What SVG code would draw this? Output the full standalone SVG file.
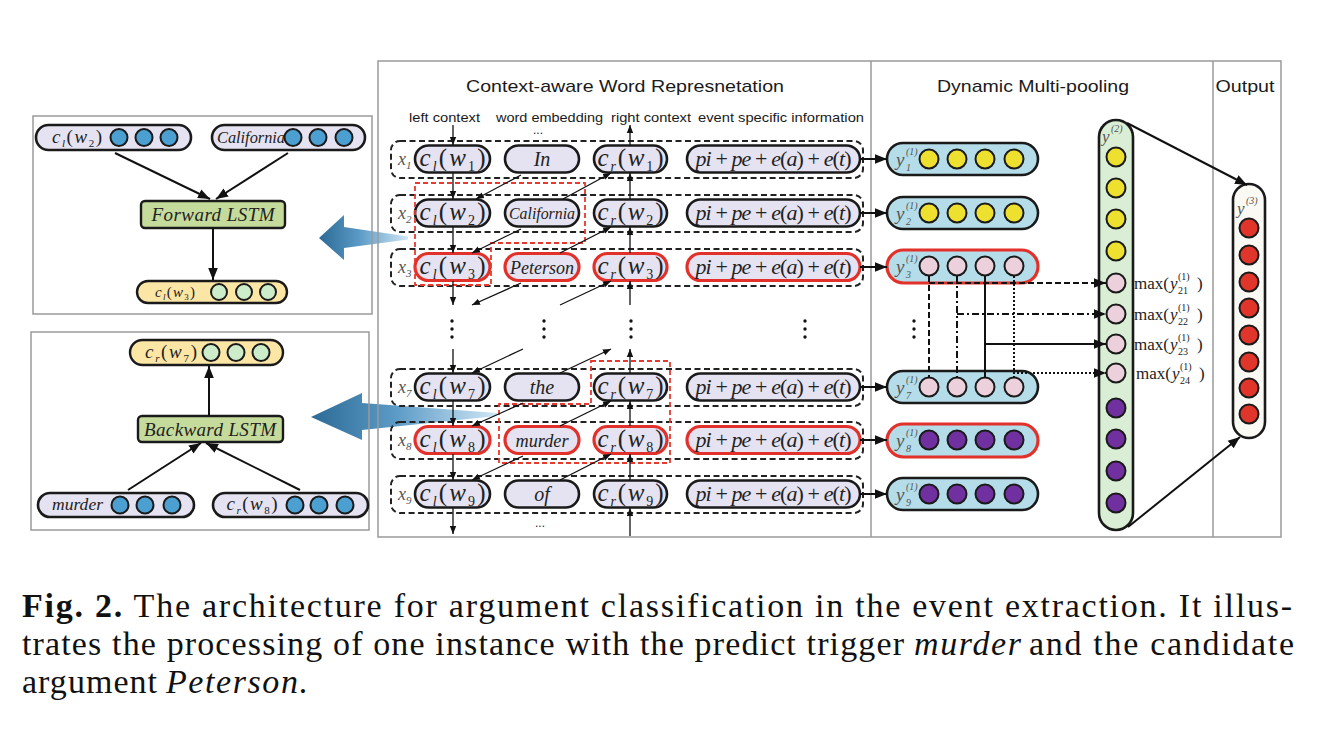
<svg xmlns="http://www.w3.org/2000/svg" width="1322" height="743" viewBox="0 0 1322 743">
<defs>
<style>
.frame{fill:none;stroke:#9a9a9a;stroke-width:1.5}
.pill{fill:#e5e2f1;stroke:#1a1a1a;stroke-width:2.6}
.redp{fill:#e5e2f1;stroke:#e2312a;stroke-width:3.2}
.dash{fill:none;stroke:#222;stroke-width:2;stroke-dasharray:6 3.5}
.rdash{fill:none;stroke:#e8392e;stroke-width:1.8;stroke-dasharray:5 3}
.ybox{fill:#b4dde9;stroke:#1a1a1a;stroke-width:2.6}
.yred{fill:#b4dde9;stroke:#e2312a;stroke-width:3.2}
.cy{fill:#ede02e;stroke:#1a1a1a;stroke-width:2}
.cp{fill:#ecd1dc;stroke:#1a1a1a;stroke-width:2}
.cv{fill:#7030a0;stroke:#1a1a1a;stroke-width:2}
.cr{fill:#e0352a;stroke:#1a1a1a;stroke-width:2}
.cb{fill:#4b9fd1;stroke:#1a1a1a;stroke-width:2}
.cg{fill:#cdedca;stroke:#1a1a1a;stroke-width:2}
.lstm{fill:#c5db9c;stroke:#1a1a1a;stroke-width:2.4}
.ypill{fill:#fbe6a6;stroke:#1a1a1a;stroke-width:2.4}
.ln{stroke:#111;stroke-width:1.3;fill:none}
.lnb{stroke:#111;stroke-width:2;fill:none}
.sans{font-family:"Liberation Sans",Arial,sans-serif;fill:#1a1a1a}
.serif{font-family:"Liberation Serif","Times New Roman",serif;fill:#222}
.it{font-style:italic}
.m{font-family:"Liberation Serif","Times New Roman",serif;fill:#222;font-size:25px;text-anchor:middle}
.s{font-size:14px}
.xl{font-family:"Liberation Serif","Times New Roman",serif;fill:#555;font-size:18px;font-style:italic}
.yl{font-family:"Liberation Serif","Times New Roman",serif;fill:#555;font-style:italic}
.cap{font-family:"Liberation Serif","Times New Roman",serif;fill:#111;font-size:34px}
</style>
<marker id="ah" viewBox="0 0 10 10" refX="10" refY="5" markerWidth="8" markerHeight="8" markerUnits="userSpaceOnUse" orient="auto"><path d="M0,1 L10,5 L0,9 z" fill="#111"/></marker>
<marker id="ahb" viewBox="0 0 10 10" refX="10" refY="5" markerWidth="12" markerHeight="12" markerUnits="userSpaceOnUse" orient="auto"><path d="M0,1 L10,5 L0,9 z" fill="#111"/></marker>
<linearGradient id="bg" x1="0" y1="0" x2="1" y2="0">
<stop offset="0" stop-color="#2d6a96"/>
<stop offset="0.45" stop-color="#5b9ac6"/>
<stop offset="1" stop-color="#cfe6f5"/>
</linearGradient>
</defs>
<rect width="1322" height="743" fill="#fff"/>

<!-- big blue arrows -->
<g id="blue-arrows">
<polygon points="319,238 344,215 344,227 408,236.5 408,239.5 344,248 344,260" fill="url(#bg)"/>
<polygon points="311,417 362,393 362,403 497,413 497,416 362,430 362,440" fill="url(#bg)"/>
</g>

<!-- frames -->
<g id="frames">
<rect class="frame" x="33" y="116" width="339" height="198"/>
<rect class="frame" x="31" y="332" width="338" height="198"/>
<rect class="frame" x="378" y="61" width="903" height="476"/>
<line class="frame" x1="871" y1="61" x2="871" y2="537"/>
<line class="frame" x1="1213" y1="61" x2="1213" y2="537"/>
</g>

<!-- titles -->
<g id="titles">
<text class="sans" x="625" y="92" font-size="17" text-anchor="middle" textLength="318" lengthAdjust="spacingAndGlyphs">Context-aware Word Represnetation</text>
<text class="sans" x="409" y="122" font-size="13.5" textLength="71" lengthAdjust="spacingAndGlyphs">left context</text>
<text class="sans" x="496" y="122" font-size="13.5" textLength="107" lengthAdjust="spacingAndGlyphs">word embedding</text>
<text class="sans" x="611" y="122" font-size="13.5" textLength="80" lengthAdjust="spacingAndGlyphs">right context</text>
<text class="sans" x="698" y="122" font-size="13.5" textLength="166" lengthAdjust="spacingAndGlyphs">event specific information</text>
<text class="sans" x="1033" y="92" font-size="17" text-anchor="middle" textLength="192" lengthAdjust="spacingAndGlyphs">Dynamic Multi-pooling</text>
<text class="sans" x="1245" y="92" font-size="17" text-anchor="middle" textLength="59" lengthAdjust="spacingAndGlyphs">Output</text>
<text class="sans" x="538" y="134" font-size="12" text-anchor="middle">...</text>
<text class="sans" x="540" y="527" font-size="12" text-anchor="middle">...</text>
</g>

<!-- row dashed boxes -->
<g id="row-boxes">
<rect class="dash" x="391" y="141" width="472" height="37" rx="9"/>
<rect class="dash" x="391" y="195" width="472" height="37" rx="9"/>
<rect class="dash" x="391" y="249" width="472" height="37" rx="9"/>
<rect class="dash" x="391" y="369" width="472" height="37" rx="9"/>
<rect class="dash" x="391" y="422" width="472" height="37" rx="9"/>
<rect class="dash" x="391" y="476" width="472" height="37" rx="9"/>
</g>

<!-- x labels -->
<g id="x-labels">
<text class="xl" x="398" y="165">x<tspan font-size="11" dy="4">1</tspan></text>
<text class="xl" x="398" y="219">x<tspan font-size="11" dy="4">2</tspan></text>
<text class="xl" x="398" y="273">x<tspan font-size="11" dy="4">3</tspan></text>
<text class="xl" x="398" y="393">x<tspan font-size="11" dy="4">7</tspan></text>
<text class="xl" x="398" y="446">x<tspan font-size="11" dy="4">8</tspan></text>
<text class="xl" x="398" y="500">x<tspan font-size="11" dy="4">9</tspan></text>
</g>

<!-- Row 1 -->
<g id="cl1"><rect class="pill" x="415" y="145.5" width="75" height="27" rx="13.5"/>
<text class="m" x="452.5" y="165.5" textLength="66" lengthAdjust="spacing"><tspan class="it">c</tspan><tspan class="s it" dy="5">l</tspan><tspan dy="-5">(</tspan><tspan class="it">w</tspan><tspan class="s" dy="5">1</tspan><tspan dy="-5">)</tspan></text></g>
<g id="w1"><rect class="pill" x="505" y="145.5" width="74" height="27" rx="13.5"/>
<text class="serif it" x="542" y="166" font-size="20" text-anchor="middle">In</text></g>
<g id="cr1"><rect class="pill" x="594" y="145.5" width="73" height="27" rx="13.5"/>
<text class="m" x="630.5" y="165.5" textLength="66" lengthAdjust="spacing"><tspan class="it">c</tspan><tspan class="s it" dy="5">r</tspan><tspan dy="-5">(</tspan><tspan class="it">w</tspan><tspan class="s" dy="5">1</tspan><tspan dy="-5">)</tspan></text></g>
<g id="pi1"><rect class="pill" x="687" y="145.5" width="173" height="27" rx="13.5"/>
<text class="serif" x="773.5" y="166" font-size="22" text-anchor="middle" textLength="156" lengthAdjust="spacing"><tspan class="it">pi</tspan> + <tspan class="it">pe</tspan> + <tspan class="it">e</tspan>(<tspan class="it">a</tspan>) + <tspan class="it">e</tspan>(<tspan class="it">t</tspan>)</text></g>

<!-- Row 2 -->
<g id="cl2"><rect class="pill" x="415" y="199.5" width="75" height="27" rx="13.5"/>
<text class="m" x="452.5" y="219.5" textLength="66" lengthAdjust="spacing"><tspan class="it">c</tspan><tspan class="s it" dy="5">l</tspan><tspan dy="-5">(</tspan><tspan class="it">w</tspan><tspan class="s" dy="5">2</tspan><tspan dy="-5">)</tspan></text></g>
<g id="w2"><rect class="pill" x="505" y="199.5" width="74" height="27" rx="13.5"/>
<text class="serif it" x="542" y="219" font-size="16" text-anchor="middle" textLength="66" lengthAdjust="spacingAndGlyphs">California</text></g>
<g id="cr2"><rect class="pill" x="594" y="199.5" width="73" height="27" rx="13.5"/>
<text class="m" x="630.5" y="219.5" textLength="66" lengthAdjust="spacing"><tspan class="it">c</tspan><tspan class="s it" dy="5">r</tspan><tspan dy="-5">(</tspan><tspan class="it">w</tspan><tspan class="s" dy="5">2</tspan><tspan dy="-5">)</tspan></text></g>
<g id="pi2"><rect class="pill" x="687" y="199.5" width="173" height="27" rx="13.5"/>
<text class="serif" x="773.5" y="220" font-size="22" text-anchor="middle" textLength="156" lengthAdjust="spacing"><tspan class="it">pi</tspan> + <tspan class="it">pe</tspan> + <tspan class="it">e</tspan>(<tspan class="it">a</tspan>) + <tspan class="it">e</tspan>(<tspan class="it">t</tspan>)</text></g>

<!-- Row 3 -->
<g id="cl3"><rect class="redp" x="415" y="253.5" width="75" height="27" rx="13.5"/>
<text class="m" x="452.5" y="273.5" textLength="66" lengthAdjust="spacing"><tspan class="it">c</tspan><tspan class="s it" dy="5">l</tspan><tspan dy="-5">(</tspan><tspan class="it">w</tspan><tspan class="s" dy="5">3</tspan><tspan dy="-5">)</tspan></text></g>
<g id="w3"><rect class="redp" x="505" y="253.5" width="74" height="27" rx="13.5"/>
<text class="serif it" x="542" y="273.5" font-size="19" text-anchor="middle" textLength="64" lengthAdjust="spacingAndGlyphs">Peterson</text></g>
<g id="cr3"><rect class="redp" x="594" y="253.5" width="73" height="27" rx="13.5"/>
<text class="m" x="630.5" y="273.5" textLength="66" lengthAdjust="spacing"><tspan class="it">c</tspan><tspan class="s it" dy="5">r</tspan><tspan dy="-5">(</tspan><tspan class="it">w</tspan><tspan class="s" dy="5">3</tspan><tspan dy="-5">)</tspan></text></g>
<g id="pi3"><rect class="redp" x="687" y="253.5" width="173" height="27" rx="13.5"/>
<text class="serif" x="773.5" y="274" font-size="22" text-anchor="middle" textLength="156" lengthAdjust="spacing"><tspan class="it">pi</tspan> + <tspan class="it">pe</tspan> + <tspan class="it">e</tspan>(<tspan class="it">a</tspan>) + <tspan class="it">e</tspan>(<tspan class="it">t</tspan>)</text></g>

<!-- Row 7 -->
<g id="cl7"><rect class="pill" x="415" y="373.5" width="75" height="27" rx="13.5"/>
<text class="m" x="452.5" y="393.5" textLength="66" lengthAdjust="spacing"><tspan class="it">c</tspan><tspan class="s it" dy="5">l</tspan><tspan dy="-5">(</tspan><tspan class="it">w</tspan><tspan class="s" dy="5">7</tspan><tspan dy="-5">)</tspan></text></g>
<g id="w7"><rect class="pill" x="505" y="373.5" width="74" height="27" rx="13.5"/>
<text class="serif it" x="542" y="394" font-size="20" text-anchor="middle">the</text></g>
<g id="cr7"><rect class="pill" x="594" y="373.5" width="73" height="27" rx="13.5"/>
<text class="m" x="630.5" y="393.5" textLength="66" lengthAdjust="spacing"><tspan class="it">c</tspan><tspan class="s it" dy="5">r</tspan><tspan dy="-5">(</tspan><tspan class="it">w</tspan><tspan class="s" dy="5">7</tspan><tspan dy="-5">)</tspan></text></g>
<g id="pi7"><rect class="pill" x="687" y="373.5" width="173" height="27" rx="13.5"/>
<text class="serif" x="773.5" y="394" font-size="22" text-anchor="middle" textLength="156" lengthAdjust="spacing"><tspan class="it">pi</tspan> + <tspan class="it">pe</tspan> + <tspan class="it">e</tspan>(<tspan class="it">a</tspan>) + <tspan class="it">e</tspan>(<tspan class="it">t</tspan>)</text></g>

<!-- Row 8 -->
<g id="cl8"><rect class="redp" x="415" y="426.5" width="75" height="27" rx="13.5"/>
<text class="m" x="452.5" y="446.5" textLength="66" lengthAdjust="spacing"><tspan class="it">c</tspan><tspan class="s it" dy="5">l</tspan><tspan dy="-5">(</tspan><tspan class="it">w</tspan><tspan class="s" dy="5">8</tspan><tspan dy="-5">)</tspan></text></g>
<g id="w8"><rect class="redp" x="505" y="426.5" width="74" height="27" rx="13.5"/>
<text class="serif it" x="542" y="446.5" font-size="18" text-anchor="middle" textLength="53" lengthAdjust="spacingAndGlyphs">murder</text></g>
<g id="cr8"><rect class="redp" x="594" y="426.5" width="73" height="27" rx="13.5"/>
<text class="m" x="630.5" y="446.5" textLength="66" lengthAdjust="spacing"><tspan class="it">c</tspan><tspan class="s it" dy="5">r</tspan><tspan dy="-5">(</tspan><tspan class="it">w</tspan><tspan class="s" dy="5">8</tspan><tspan dy="-5">)</tspan></text></g>
<g id="pi8"><rect class="redp" x="687" y="426.5" width="173" height="27" rx="13.5"/>
<text class="serif" x="773.5" y="447" font-size="22" text-anchor="middle" textLength="156" lengthAdjust="spacing"><tspan class="it">pi</tspan> + <tspan class="it">pe</tspan> + <tspan class="it">e</tspan>(<tspan class="it">a</tspan>) + <tspan class="it">e</tspan>(<tspan class="it">t</tspan>)</text></g>

<!-- Row 9 -->
<g id="cl9"><rect class="pill" x="415" y="480.5" width="75" height="27" rx="13.5"/>
<text class="m" x="452.5" y="500.5" textLength="66" lengthAdjust="spacing"><tspan class="it">c</tspan><tspan class="s it" dy="5">l</tspan><tspan dy="-5">(</tspan><tspan class="it">w</tspan><tspan class="s" dy="5">9</tspan><tspan dy="-5">)</tspan></text></g>
<g id="w9"><rect class="pill" x="505" y="480.5" width="74" height="27" rx="13.5"/>
<text class="serif it" x="542" y="501" font-size="20" text-anchor="middle">of</text></g>
<g id="cr9"><rect class="pill" x="594" y="480.5" width="73" height="27" rx="13.5"/>
<text class="m" x="630.5" y="500.5" textLength="66" lengthAdjust="spacing"><tspan class="it">c</tspan><tspan class="s it" dy="5">r</tspan><tspan dy="-5">(</tspan><tspan class="it">w</tspan><tspan class="s" dy="5">9</tspan><tspan dy="-5">)</tspan></text></g>
<g id="pi9"><rect class="pill" x="687" y="480.5" width="173" height="27" rx="13.5"/>
<text class="serif" x="773.5" y="501" font-size="22" text-anchor="middle" textLength="156" lengthAdjust="spacing"><tspan class="it">pi</tspan> + <tspan class="it">pe</tspan> + <tspan class="it">e</tspan>(<tspan class="it">a</tspan>) + <tspan class="it">e</tspan>(<tspan class="it">t</tspan>)</text></g>

<!-- red dashed highlight boxes -->
<g id="highlights">
<polygon class="rdash" points="415,183 585,183 585,243 491,243 491,285 415,285"/>
<polygon class="rdash" points="591,361 670,361 670,463 499,463 499,404 591,404"/>
</g>

<!-- vertical dots -->
<g id="ellipsis" fill="#111">
<circle cx="452" cy="321" r="1.7"/><circle cx="452" cy="329" r="1.7"/><circle cx="452" cy="337" r="1.7"/>
<circle cx="544" cy="321" r="1.7"/><circle cx="544" cy="329" r="1.7"/><circle cx="544" cy="337" r="1.7"/>
<circle cx="631" cy="321" r="1.7"/><circle cx="631" cy="329" r="1.7"/><circle cx="631" cy="337" r="1.7"/>
<circle cx="805" cy="321" r="1.7"/><circle cx="805" cy="329" r="1.7"/><circle cx="805" cy="337" r="1.7"/>
<circle cx="914" cy="321" r="1.7"/><circle cx="914" cy="329" r="1.7"/><circle cx="914" cy="337" r="1.7"/>
</g>

<!-- y(1) boxes -->
<g id="y1"><rect class="ybox" x="887" y="143" width="151" height="32" rx="16"/>
<circle class="cy" cx="929" cy="159" r="9.5"/><circle class="cy" cx="957" cy="159" r="9.5"/><circle class="cy" cx="985" cy="159" r="9.5"/><circle class="cy" cx="1014" cy="159" r="9.5"/>
<text class="yl" x="896" y="166" font-size="19">y</text><text class="yl" x="906" y="155" font-size="10" font-style="normal">(1)</text><text class="yl" x="906" y="171" font-size="10" font-style="normal">1</text></g>
<g id="y2"><rect class="ybox" x="887" y="197" width="151" height="32" rx="16"/>
<circle class="cy" cx="929" cy="213" r="9.5"/><circle class="cy" cx="957" cy="213" r="9.5"/><circle class="cy" cx="985" cy="213" r="9.5"/><circle class="cy" cx="1014" cy="213" r="9.5"/>
<text class="yl" x="896" y="220" font-size="19">y</text><text class="yl" x="906" y="209" font-size="10" font-style="normal">(1)</text><text class="yl" x="906" y="225" font-size="10" font-style="normal">2</text></g>
<g id="y3"><rect class="yred" x="887" y="250" width="151" height="33" rx="16.5"/>
<circle class="cp" cx="929" cy="266" r="9.5"/><circle class="cp" cx="957" cy="266" r="9.5"/><circle class="cp" cx="985" cy="266" r="9.5"/><circle class="cp" cx="1014" cy="266" r="9.5"/>
<text class="yl" x="896" y="273" font-size="19">y</text><text class="yl" x="906" y="262" font-size="10" font-style="normal">(1)</text><text class="yl" x="906" y="278" font-size="10" font-style="normal">3</text></g>
<g id="y7"><rect class="ybox" x="887" y="371" width="151" height="32" rx="16"/>
<circle class="cp" cx="929" cy="387" r="9.5"/><circle class="cp" cx="957" cy="387" r="9.5"/><circle class="cp" cx="985" cy="387" r="9.5"/><circle class="cp" cx="1014" cy="387" r="9.5"/>
<text class="yl" x="896" y="394" font-size="19">y</text><text class="yl" x="906" y="383" font-size="10" font-style="normal">(1)</text><text class="yl" x="906" y="399" font-size="10" font-style="normal">7</text></g>
<g id="y8"><rect class="yred" x="887" y="424" width="151" height="33" rx="16.5"/>
<circle class="cv" cx="929" cy="440" r="9.5"/><circle class="cv" cx="957" cy="440" r="9.5"/><circle class="cv" cx="985" cy="440" r="9.5"/><circle class="cv" cx="1014" cy="440" r="9.5"/>
<text class="yl" x="896" y="447" font-size="19">y</text><text class="yl" x="906" y="436" font-size="10" font-style="normal">(1)</text><text class="yl" x="906" y="452" font-size="10" font-style="normal">8</text></g>
<g id="y9"><rect class="ybox" x="887" y="478" width="151" height="32" rx="16"/>
<circle class="cv" cx="929" cy="494" r="9.5"/><circle class="cv" cx="957" cy="494" r="9.5"/><circle class="cv" cx="985" cy="494" r="9.5"/><circle class="cv" cx="1014" cy="494" r="9.5"/>
<text class="yl" x="896" y="501" font-size="19">y</text><text class="yl" x="906" y="490" font-size="10" font-style="normal">(1)</text><text class="yl" x="906" y="506" font-size="10" font-style="normal">9</text></g>

<!-- y(2) -->
<g id="y2col"><rect x="1099" y="120" width="34" height="410" rx="17" fill="#d9eed5" stroke="#1a1a1a" stroke-width="2.6"/>
<text class="yl" x="1102" y="142" font-size="17">y</text><text class="yl" x="1111" y="132" font-size="10" font-style="normal">(2)</text>
<circle class="cy" cx="1116" cy="157" r="9.5"/><circle class="cy" cx="1116" cy="188" r="9.5"/><circle class="cy" cx="1116" cy="219" r="9.5"/><circle class="cy" cx="1116" cy="251" r="9.5"/>
<circle class="cp" cx="1116" cy="283" r="9.5"/><circle class="cp" cx="1116" cy="314" r="9.5"/><circle class="cp" cx="1116" cy="344" r="9.5"/><circle class="cp" cx="1116" cy="373" r="9.5"/>
<circle class="cv" cx="1116" cy="408" r="9.5"/><circle class="cv" cx="1116" cy="439" r="9.5"/><circle class="cv" cx="1116" cy="471" r="9.5"/><circle class="cv" cx="1116" cy="503" r="9.5"/>
</g>

<!-- max labels -->
<g id="max-labels" class="serif" font-size="17">
<text x="1134" y="289">max(</text><text class="it" x="1170" y="289">y</text><text x="1178" y="280" font-size="10">(1)</text><text x="1178" y="294" font-size="10">21</text><text x="1197" y="289">)</text>
<text x="1134" y="320">max(</text><text class="it" x="1170" y="320">y</text><text x="1178" y="311" font-size="10">(1)</text><text x="1178" y="325" font-size="10">22</text><text x="1197" y="320">)</text>
<text x="1134" y="350">max(</text><text class="it" x="1170" y="350">y</text><text x="1178" y="341" font-size="10">(1)</text><text x="1178" y="355" font-size="10">23</text><text x="1197" y="350">)</text>
<text x="1136" y="379">max(</text><text class="it" x="1172" y="379">y</text><text x="1180" y="370" font-size="10">(1)</text><text x="1180" y="384" font-size="10">24</text><text x="1199" y="379">)</text>
</g>

<!-- y(3) output -->
<g id="y3col"><rect x="1233" y="184" width="32" height="254" rx="16" fill="#fbf9f3" stroke="#1a1a1a" stroke-width="2.6"/>
<text class="yl" x="1237" y="214" font-size="17">y</text><text class="yl" x="1246" y="204" font-size="10" font-style="normal">(3)</text>
<circle class="cr" cx="1249" cy="228" r="9.5"/><circle class="cr" cx="1249" cy="255" r="9.5"/><circle class="cr" cx="1249" cy="282" r="9.5"/><circle class="cr" cx="1249" cy="308" r="9.5"/>
<circle class="cr" cx="1249" cy="335" r="9.5"/><circle class="cr" cx="1249" cy="362" r="9.5"/><circle class="cr" cx="1249" cy="388" r="9.5"/><circle class="cr" cx="1249" cy="414" r="9.5"/>
</g>

<!-- left top panel nodes -->
<g id="lp-cl2"><rect class="pill" x="36" y="125" width="155" height="25" rx="12.5"/>
<text class="m" x="77" y="143" textLength="50" lengthAdjust="spacing" style="font-size:19px"><tspan class="it">c</tspan><tspan class="it" font-size="11" dy="4">l</tspan><tspan dy="-4">(</tspan><tspan class="it">w</tspan><tspan font-size="11" dy="4">2</tspan><tspan dy="-4">)</tspan></text>
<circle class="cb" cx="119" cy="137.5" r="8.5"/><circle class="cb" cx="144" cy="137.5" r="8.5"/><circle class="cb" cx="169" cy="137.5" r="8.5"/></g>
<g id="lp-cal"><rect class="pill" x="212" y="125" width="153" height="25" rx="12.5"/>
<text class="serif it" x="251" y="143" font-size="16" text-anchor="middle" textLength="68" lengthAdjust="spacingAndGlyphs">California</text>
<circle class="cb" cx="293" cy="137.5" r="8.5"/><circle class="cb" cx="318" cy="137.5" r="8.5"/><circle class="cb" cx="344" cy="137.5" r="8.5"/></g>
<g id="lp-fwd"><rect class="lstm" x="141" y="201" width="144" height="27" rx="4"/>
<text class="serif it" x="213" y="221" font-size="19" text-anchor="middle" textLength="123" lengthAdjust="spacing">Forward  LSTM</text></g>
<g id="lp-cl3"><rect class="ypill" x="137" y="281" width="150" height="22" rx="11"/>
<text class="m" x="175" y="297" textLength="40" lengthAdjust="spacing" style="font-size:15px"><tspan class="it">c</tspan><tspan class="it" font-size="9" dy="3">l</tspan><tspan dy="-3">(</tspan><tspan class="it">w</tspan><tspan font-size="9" dy="3">3</tspan><tspan dy="-3">)</tspan></text>
<circle class="cg" cx="219" cy="292" r="8"/><circle class="cg" cx="244" cy="292" r="8"/><circle class="cg" cx="268" cy="292" r="8"/></g>

<!-- left bottom panel nodes -->
<g id="lp-cr7"><rect class="ypill" x="130" y="340" width="153" height="25" rx="12.5"/>
<text class="m" x="171" y="358" textLength="52" lengthAdjust="spacing" style="font-size:19px"><tspan class="it">c</tspan><tspan class="it" font-size="11" dy="4">r</tspan><tspan dy="-4">(</tspan><tspan class="it">w</tspan><tspan font-size="11" dy="4">7</tspan><tspan dy="-4">)</tspan></text>
<circle class="cg" cx="211" cy="352.5" r="8.5"/><circle class="cg" cx="236" cy="352.5" r="8.5"/><circle class="cg" cx="261" cy="352.5" r="8.5"/></g>
<g id="lp-bwd"><rect class="lstm" x="138" y="416" width="145" height="26" rx="4"/>
<text class="serif it" x="210" y="436" font-size="19" text-anchor="middle" textLength="132" lengthAdjust="spacing">Backward  LSTM</text></g>
<g id="lp-murder"><rect class="pill" x="38" y="493" width="156" height="24" rx="12"/>
<text class="serif it" x="77.5" y="510" font-size="17" text-anchor="middle" textLength="51" lengthAdjust="spacingAndGlyphs">murder</text>
<circle class="cb" cx="120" cy="505" r="8.5"/><circle class="cb" cx="145" cy="505" r="8.5"/><circle class="cb" cx="172" cy="505" r="8.5"/></g>
<g id="lp-cr8"><rect class="pill" x="213" y="493" width="155" height="24" rx="12"/>
<text class="m" x="252" y="510" textLength="51" lengthAdjust="spacing" style="font-size:19px"><tspan class="it">c</tspan><tspan class="it" font-size="11" dy="4">r</tspan><tspan dy="-4">(</tspan><tspan class="it">w</tspan><tspan font-size="11" dy="4">8</tspan><tspan dy="-4">)</tspan></text>
<circle class="cb" cx="295" cy="505" r="8.5"/><circle class="cb" cx="319" cy="505" r="8.5"/><circle class="cb" cx="345" cy="505" r="8.5"/></g>

<!-- connectors -->
<g id="connectors">
<g class="ln" marker-end="url(#ah)">
<path d="M453,125 V145"/><path d="M453,173 V199"/><path d="M453,227 V253"/><path d="M453,281 V305"/>
<path d="M453,349 V373"/><path d="M453,401 V426"/><path d="M453,454 V480"/><path d="M453,508 V534"/>
<path d="M630,145 V125"/><path d="M630,199 V173"/><path d="M630,253 V227"/><path d="M630,305 V281"/>
<path d="M630,373 V349"/><path d="M630,426 V401"/><path d="M630,480 V454"/><path d="M630,536 V508"/>
<path d="M521,175 L476,199"/><path d="M521,229 L472,253"/><path d="M521,283 L472,305"/>
<path d="M523,349 L472,373"/><path d="M523,403 L472,426"/><path d="M523,456 L472,480"/>
<path d="M563,199 L611,173"/><path d="M560,253 L611,227"/><path d="M560,305 L611,281"/>
<path d="M560,373 L611,349"/><path d="M560,426 L611,401"/><path d="M560,480 L611,454"/>
</g>
<g class="lnb" marker-end="url(#ahb)">
<path d="M860,159 H887"/><path d="M860,213 H887"/><path d="M860,267 H887"/>
<path d="M860,387 H887"/><path d="M860,440 H887"/><path d="M860,494 H887"/>
<path d="M1127,123 L1247,185"/><path d="M1128,527 L1240,437"/>
<path d="M115,153 L210,199"/><path d="M288,153 L216,199"/><path d="M213,228 V280"/>
<path d="M128,490 L201,443"/><path d="M300,490 L206,443"/><path d="M209,416 V366"/>
</g>
<g fill="none" stroke="#111" stroke-width="2">
<path d="M929,276 V378" stroke-dasharray="6 3"/>
<path d="M957,276 V378" stroke-dasharray="7 3 2 3"/>
<path d="M985,276 V378"/>
<path d="M1014,276 V378" stroke-dasharray="2 2"/>
<path d="M929,283 H1106" stroke-dasharray="6 3" marker-end="url(#ahb)"/>
<path d="M957,314 H1106" stroke-dasharray="7 3 2 3" marker-end="url(#ahb)"/>
<path d="M985,344 H1106" marker-end="url(#ahb)"/>
<path d="M1017,373 H1106" stroke-dasharray="2 2" marker-end="url(#ahb)"/>
</g>
</g>

<!-- caption -->
<g id="caption">
<text class="cap" x="22" y="617" textLength="1270" lengthAdjust="spacing"><tspan font-weight="bold">Fig. 2.</tspan> The architecture for argument classification in the event extraction. It illus-</text>
<text class="cap" x="22" y="655" textLength="882" lengthAdjust="spacing">trates the processing of one instance with the predict trigger</text>
<text class="cap it" x="914" y="655" textLength="107" lengthAdjust="spacing">murder</text>
<text class="cap" x="1029" y="655" textLength="265" lengthAdjust="spacing">and the candidate</text>
<text class="cap" x="22" y="693" textLength="135" lengthAdjust="spacing">argument</text>
<text class="cap it" x="166" y="693" textLength="142" lengthAdjust="spacing">Peterson.</text>
</g>
</svg>
